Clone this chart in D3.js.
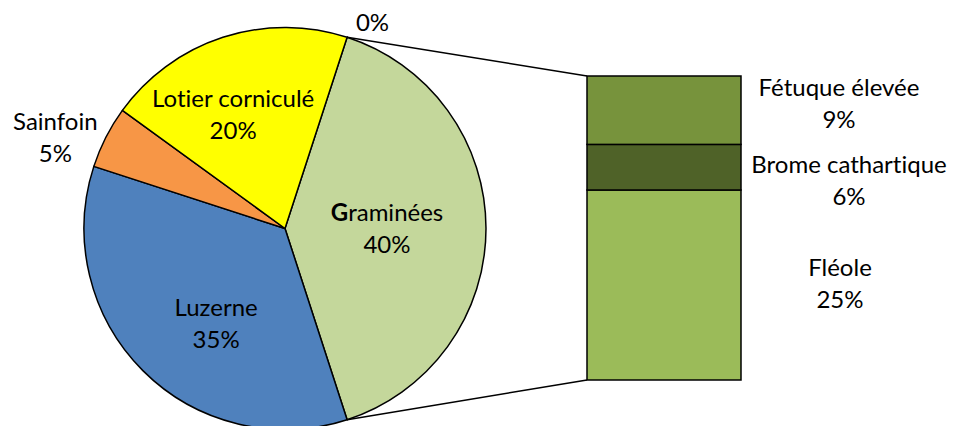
<!DOCTYPE html>
<meta charset="utf-8">
<script src="https://d3js.org/d3.v7.min.js"></script>
<style>
  body { margin: 0; background: #fff; }
  text { font-family: Lato, "Open Sans", sans-serif; font-size: 24px; fill: #000; font-variant-ligatures: none; font-feature-settings: "liga" 0, "dlig" 0; }
</style>
<body>
<div id="chart"></div>
<script>
  // pie data (the first one is the empty 0% slice)
  var pieNames = ["", "Graminées", "Luzerne", "Sainfoin", "Lotier corniculé"];
  var pieValues = [0, 40, 35, 5, 20];
  var pieColors = ["#C4D79B", "#C4D79B", "#4F81BD", "#F79646", "#FFFF00"];

  // bar data (bottom to top)
  var barNames = ["Fléole", "Brome cathartique", "Fétuque élevée"];
  var barValues = [25, 6, 9];
  var barColors = ["#9BBB59", "#4F6228", "#77933C"];

  var width = 953, height = 426;
  var cx = 285, cy = 228.5, r = 201;

  // label placement (angle in degrees clockwise from top, radius in px)
  var labelPos = [
    { a: 23, r: 224 },
    { a: 90, r: 102 },
    { a: 215.7, r: 118 },
    { a: 291.6, r: 247 },
    { a: 335.5, r: 125 }
  ];

  var svg = d3.select("#chart").append("svg")
    .attr("width", width)
    .attr("height", height);

  var start = Math.PI / 10;
  var pie = d3.pie().sort(null).startAngle(start).endAngle(start + 2 * Math.PI);
  var arcs = pie(pieValues);
  var arc = d3.arc().innerRadius(0).outerRadius(r);

  var g = svg.append("g").attr("transform", "translate(" + cx + "," + cy + ")");
  g.selectAll("path")
    .data(arcs)
    .enter()
    .append("path")
    .attr("d", arc)
    .attr("fill", function (d, i) { return pieColors[i]; })
    .attr("stroke", "#000")
    .attr("stroke-width", 1.5)
    .attr("stroke-linejoin", "round");

  // bar
  var barX = 587, barW = 154;
  var y = d3.scaleLinear().domain([0, d3.sum(barValues)]).range([380, 76]);
  var cum = 0;
  var barData = barValues.map(function (v, i) {
    var d = { name: barNames[i], value: v, y0: cum, y1: cum + v, color: barColors[i] };
    cum += v;
    return d;
  });
  svg.selectAll(".seg")
    .data(barData)
    .enter()
    .append("rect")
    .attr("class", "seg")
    .attr("x", barX)
    .attr("width", barW)
    .attr("y", function (d) { return y(d.y1); })
    .attr("height", function (d) { return y(d.y0) - y(d.y1); })
    .attr("fill", function (d) { return d.color; })
    .attr("stroke", "#000")
    .attr("stroke-width", 1.5);

  // connector lines from the Graminées slice edges to the bar
  var gram = arcs[1];
  function edge(a) { return [cx + r * Math.sin(a), cy - r * Math.cos(a)]; }
  var p1 = edge(gram.startAngle), p2 = edge(gram.endAngle);
  svg.append("line")
    .attr("x1", p1[0]).attr("y1", p1[1])
    .attr("x2", barX).attr("y2", y(d3.sum(barValues)))
    .attr("stroke", "#000").attr("stroke-width", 1.5);
  svg.append("line")
    .attr("x1", p2[0]).attr("y1", p2[1])
    .attr("x2", barX).attr("y2", y(0))
    .attr("stroke", "#000").attr("stroke-width", 1.5);

  // pie labels
  arcs.forEach(function (d, i) {
    var a = labelPos[i].a * Math.PI / 180, lr = labelPos[i].r;
    var lx = cx + lr * Math.sin(a), ly = cy - lr * Math.cos(a);
    var pct = Math.round(d.value / d3.sum(pieValues) * 100) + "%";
    var t = svg.append("text").attr("text-anchor", "middle");
    if (pieNames[i] === "") {
      t.attr("x", lx).attr("y", ly + 9).text(pct);
      return;
    }
    var l1 = t.append("tspan").attr("x", lx).attr("y", ly - 8);
    if (pieNames[i] === "Graminées") {
      l1.append("tspan").style("font-weight", "bold").text("G");
      l1.append("tspan").text("raminées");
    } else {
      l1.text(pieNames[i]);
    }
    t.append("tspan").attr("x", lx).attr("y", ly + 24).text(pct);
  });

  // bar labels
  var barLabelX = [840, 849, 839];
  var barLabelY = [284, 181, 104];
  barData.forEach(function (d, i) {
    var t = svg.append("text").attr("text-anchor", "middle");
    t.append("tspan").attr("x", barLabelX[i]).attr("y", barLabelY[i] - 8).text(d.name);
    t.append("tspan").attr("x", barLabelX[i]).attr("y", barLabelY[i] + 24).text(d.value + "%");
  });
</script>
</body>
